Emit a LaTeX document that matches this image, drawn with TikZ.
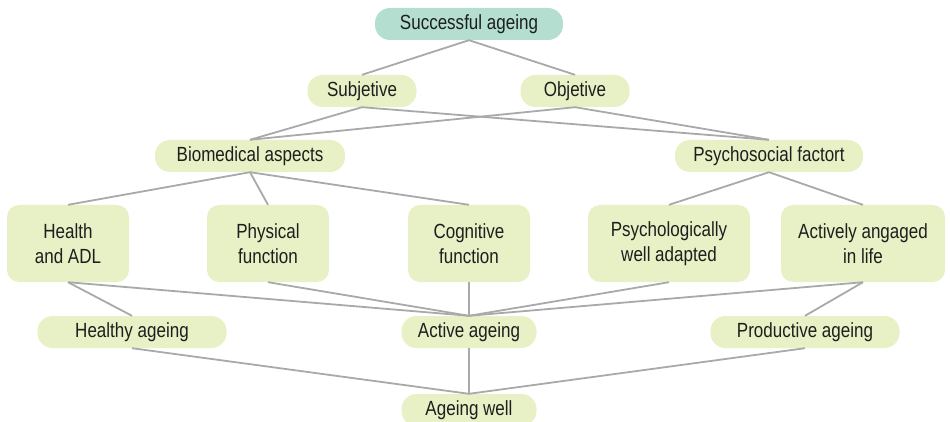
\documentclass[tikz,border=0pt]{standalone}
\usepackage{fontspec}
\setmainfont[FakeStretch=0.83]{Liberation Sans}
\definecolor{pill}{HTML}{E8F0C6}
\definecolor{topc}{HTML}{B4DECF}
\definecolor{edge}{HTML}{A9A9A9}
\definecolor{txt}{HTML}{1E1E1E}
\begin{document}
\begin{tikzpicture}[x=1pt,y=-1pt,
  base/.style={fill=pill, draw=none, text=txt, font=\fontsize{20.5}{25}\selectfont, inner sep=0pt, align=center},
  pillbox/.style={base, rounded corners=15pt, minimum height=32pt},
  bigbox/.style={base, rounded corners=12pt, minimum height=77pt},
  link/.style={draw=edge, line width=1.8pt}]
\useasboundingbox (0,0) rectangle (950,422);
\node[pillbox, fill=topc, minimum width=188pt] (suc) at (469,24) {\raisebox{-1pt}{Successful ageing}};
\node[pillbox, minimum width=109pt] (sub) at (362,91) {\raisebox{-1pt}{Subjetive}};
\node[pillbox, minimum width=109pt] (obj) at (575,91) {\raisebox{-1pt}{Objetive}};
\node[pillbox, minimum width=190pt] (bio) at (250,156) {\raisebox{-1pt}{Biomedical aspects}};
\node[pillbox, minimum width=188pt] (psy) at (769,156) {\raisebox{-1pt}{Psychosocial factort}};
\node[bigbox, minimum width=122pt] (hea) at (68,243.5) {Health\\and ADL};
\node[bigbox, minimum width=122pt] (phy) at (268,243.5) {Physical\\function};
\node[bigbox, minimum width=122pt] (cog) at (469,243.5) {Cognitive\\function};
\node[bigbox, minimum width=162pt] (pwa) at (669,243.5) {Psychologically\\well adapted};
\node[bigbox, minimum width=164pt] (act) at (863,243.5) {Actively angaged\\in life};
\node[pillbox, minimum width=189pt] (hag) at (132,332) {\raisebox{-1pt}{Healthy ageing}};
\node[pillbox, minimum width=135pt] (aag) at (469,332) {\raisebox{-1pt}{Active ageing}};
\node[pillbox, minimum width=189pt] (pag) at (805,332) {\raisebox{-1pt}{Productive ageing}};
\node[pillbox, minimum width=135pt] (aw) at (469,410) {\raisebox{-1pt}{Ageing well}};
\begin{scope}[link]
\draw (suc.south) -- (sub.north);
\draw (suc.south) -- (obj.north);
\draw (sub.south) -- (bio.north);
\draw (sub.south) -- (psy.north);
\draw (obj.south) -- (bio.north);
\draw (obj.south) -- (psy.north);
\draw (bio.south) -- (hea.north);
\draw (bio.south) -- (phy.north);
\draw (bio.south) -- (cog.north);
\draw (psy.south) -- (pwa.north);
\draw (psy.south) -- (act.north);
\draw (hea.south) -- (hag.north);
\draw (hea.south) -- (aag.north);
\draw (phy.south) -- (aag.north);
\draw (cog.south) -- (aag.north);
\draw (pwa.south) -- (aag.north);
\draw (act.south) -- (aag.north);
\draw (act.south) -- (pag.north);
\draw (hag.south) -- (aw.north);
\draw (aag.south) -- (aw.north);
\draw (pag.south) -- (aw.north);
\end{scope}
\end{tikzpicture}
\end{document}
